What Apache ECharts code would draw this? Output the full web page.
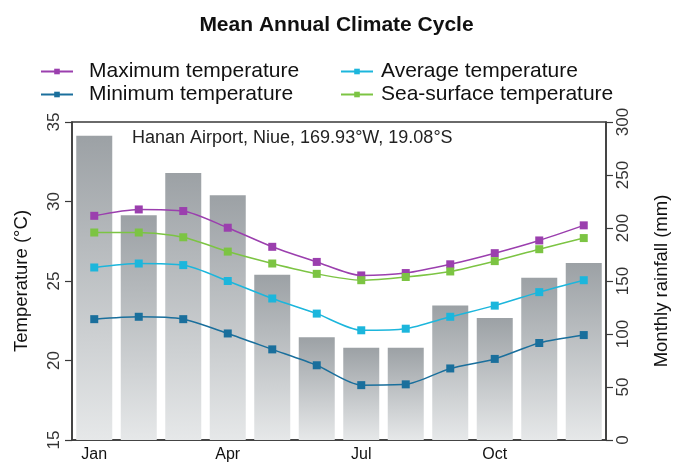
<!DOCTYPE html>
<html><head><meta charset="utf-8">
<script src="https://cdn.jsdelivr.net/npm/echarts@6/dist/echarts.min.js"></script>
<style>html,body{margin:0;padding:0;background:#fff}#c{width:673px;height:464px}</style>
</head><body><div id="c"></div>
<script>
var months = ['Jan','Feb','Mar','Apr','May','Jun','Jul','Aug','Sep','Oct','Nov','Dec'];
var rainfall = [287, 212, 252, 231, 156, 97, 87, 87, 127, 115, 153, 167];
var maxTemp = [29.1, 29.5, 29.4, 28.35, 27.15, 26.2, 25.35, 25.5, 26.05, 26.75, 27.55, 28.5];
var avgTemp = [25.85, 26.1, 26.0, 25.0, 23.9, 22.95, 21.9, 22.0, 22.75, 23.45, 24.3, 25.05];
var minTemp = [22.6, 22.75, 22.6, 21.7, 20.7, 19.7, 18.45, 18.5, 19.5, 20.1, 21.1, 21.6];
var seaTemp = [28.05, 28.05, 27.75, 26.85, 26.1, 25.45, 25.05, 25.25, 25.6, 26.25, 27.0, 27.7];
var tempTicks = [15, 35, 5];
var rainTicks = [0, 300, 50];

var font = 'Liberation Sans, Arial, Helvetica, sans-serif';
var axisCol = '#3a3a3a';
var chart = echarts.init(document.getElementById('c'));
function lineSeries(name, data, color) {
  return {
    name: name, type: 'line', yAxisIndex: 0, data: data, smooth: 0.25,
    symbol: 'rect', symbolSize: 8,
    lineStyle: {color: color, width: 1.5},
    itemStyle: {color: color},
    z: 5
  };
}
chart.setOption({
  animation: false,
  textStyle: {fontFamily: font},
  title: {
    text: 'Mean Annual Climate Cycle', left: 'center', top: 10,
    textStyle: {fontFamily: font, fontSize: 21, fontWeight: 'bold', color: '#111'}
  },
  legend: [
    {left: 35, top: 56, orient: 'vertical', itemGap: 2, itemWidth: 32, itemHeight: 7,
     data: ['Maximum temperature', 'Minimum temperature'],
     textStyle: {fontFamily: font, fontSize: 21, color: '#111', padding: [0, 0, 0, 11]}},
    {left: 335, top: 56, orient: 'vertical', itemGap: 2, itemWidth: 32, itemHeight: 7,
     data: ['Average temperature', 'Sea-surface temperature'],
     textStyle: {fontFamily: font, fontSize: 21, color: '#111', padding: [0, 0, 0, 3]}}
  ],
  graphic: [{
    type: 'text', left: 132, top: 129,
    style: {text: 'Hanan Airport, Niue, 169.93°W, 19.08°S', font: '18px ' + font, fill: '#222'}
  }],
  grid: {left: 72, right: 67, top: 122, bottom: 24, outerBoundsMode: 'none', containLabel: false,
         show: true, borderColor: axisCol, borderWidth: 1.5, backgroundColor: 'transparent'},
  xAxis: {
    type: 'category', data: months, boundaryGap: true,
    axisLine: {lineStyle: {color: axisCol, width: 1.5}},
    axisTick: {alignWithLabel: true, interval: 0, length: 7, lineStyle: {color: axisCol, width: 1.2}},
    axisLabel: {interval: 2, color: '#111', fontSize: 16, margin: 7, fontFamily: font}
  },
  yAxis: [{
    type: 'value', min: tempTicks[0], max: tempTicks[1], interval: tempTicks[2],
    name: 'Temperature (°C)', nameLocation: 'middle', nameGap: 41, nameRotate: 90,
    nameTextStyle: {fontSize: 18.5, color: '#111', fontFamily: font},
    axisLine: {show: true, lineStyle: {color: axisCol, width: 1.5}},
    axisTick: {show: true, length: 7, lineStyle: {color: axisCol, width: 1.2}},
    axisLabel: {rotate: 90, color: '#333', fontSize: 17, margin: 9, fontFamily: font},
    splitLine: {show: false}
  }, {
    type: 'value', position: 'right', min: rainTicks[0], max: rainTicks[1], interval: rainTicks[2],
    name: 'Monthly rainfall (mm)', nameLocation: 'middle', nameGap: 46, nameRotate: 90,
    nameTextStyle: {fontSize: 18.5, color: '#111', fontFamily: font},
    axisLine: {show: true, lineStyle: {color: axisCol, width: 1.5}},
    axisTick: {show: true, length: 7, lineStyle: {color: axisCol, width: 1.2}},
    axisLabel: {rotate: 90, color: '#333', fontSize: 17, margin: 9, fontFamily: font},
    splitLine: {show: false}
  }],
  series: [
    {
      name: 'Monthly rainfall', type: 'bar', yAxisIndex: 1, data: rainfall, barWidth: 36,
      itemStyle: {color: new echarts.graphic.LinearGradient(0, 0, 0, 1, [
        {offset: 0, color: '#9ca1a5'}, {offset: 1, color: '#e6e8e9'}])},
      z: 1
    },
    lineSeries('Maximum temperature', maxTemp, '#9b3fae'),
    lineSeries('Average temperature', avgTemp, '#1cb6dc'),
    lineSeries('Minimum temperature', minTemp, '#1a6f9c'),
    lineSeries('Sea-surface temperature', seaTemp, '#7cc443')
  ]
});
</script>
</body></html>
